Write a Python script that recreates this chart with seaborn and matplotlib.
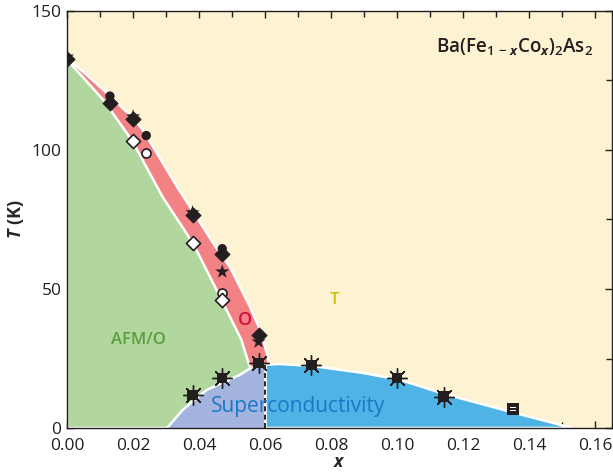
import numpy as np
import pandas as pd
import matplotlib.pyplot as plt
import seaborn as sns

sns.set_theme(style="ticks")
plt.rcParams['font.family'] = ['Open Sans', 'DejaVu Sans']
plt.rcParams['mathtext.fontset'] = 'custom'
plt.rcParams['mathtext.rm'] = 'Open Sans'
plt.rcParams['mathtext.it'] = 'Open Sans:italic:bold'
plt.rcParams['mathtext.bf'] = 'Open Sans:bold'

# phase boundaries (x, T in K)
red_x = [0.0, 0.006, 0.013, 0.02, 0.0231, 0.0332, 0.0397, 0.0448, 0.0493, 0.0554, 0.0589, 0.0609, 0.061]
red_T = [133.0, 127.0, 119.5, 111.5, 107.0, 87.0, 75.0, 65.5, 58.0, 43.6, 34.0, 25.0, 22.8]

afm_x = [0.0, 0.011, 0.0196, 0.029, 0.0362, 0.0392, 0.0453, 0.0503, 0.0528, 0.0548, 0.0555]
afm_T = [132.5, 118.0, 103.6, 83.0, 70.0, 64.0, 49.6, 37.7, 31.7, 24.0, 21.5]

sc_left_x = [0.0303, 0.035, 0.0423, 0.0523, 0.0555, 0.06]
sc_left_T = [0.0, 6.5, 13.7, 19.1, 21.5, 22.8]
sc_right_x = [0.0644, 0.0744, 0.0896, 0.1008, 0.115, 0.135, 0.153]
sc_right_T = [23.0, 22.3, 19.8, 17.3, 12.0, 5.6, 0.0]

# measured points
dia_x = [0.0, 0.013, 0.02, 0.038, 0.047, 0.058]
dia_T = [132.7, 116.9, 111.0, 76.6, 62.6, 33.5]
star_x = [0.0, 0.02, 0.038, 0.047, 0.058]
star_T = [133.5, 112.0, 77.5, 56.2, 31.0]
bcirc_x = [0.013, 0.024, 0.047]
bcirc_T = [119.4, 105.2, 64.5]
wcirc_x = [0.024, 0.047]
wcirc_T = [99.0, 48.4]
wdia_x = [0.02, 0.038, 0.047]
wdia_T = [103.3, 66.7, 46.0]
tc_x = [0.038, 0.047, 0.058, 0.074, 0.10, 0.114]
tc_T = [11.9, 17.9, 23.3, 22.7, 17.9, 11.3]
tc2_x = [0.135]
tc2_T = [6.8]

cream = '#FDF2D2'
green = '#B1D69E'
red = '#F28284'
purple = '#A3B4DE'
blue = '#4FB3E6'

fig = plt.figure(figsize=(6.13, 4.76), dpi=100)
ax = fig.add_axes([67 / 613, 48 / 476, 545 / 613, 417 / 476])
ax.set_facecolor(cream)

# red (orthorhombic) band
rx = red_x + [red_x[-1], 0.0]
rT = red_T + [0.0, 0.0]
ax.fill(rx, rT, facecolor=red, edgecolor='white', lw=1.8, zorder=1)

# superconducting dome
dx = sc_left_x + sc_right_x
dT = sc_left_T + sc_right_T
ax.fill(dx, dT, facecolor=blue, edgecolor='white', lw=1.8, zorder=2)
px = sc_left_x + [0.06]
pT = sc_left_T + [0.0]
ax.fill(px, pT, facecolor=purple, edgecolor='none', zorder=3)

# AFM/O region
gx = afm_x + sc_left_x[-3::-1] + [0.0]
gT = afm_T + sc_left_T[-3::-1] + [0.0]
ax.fill(gx, gT, facecolor=green, edgecolor='white', lw=1.8, zorder=4)

ax.plot([0.06, 0.06], [0, 22.8], color='white', lw=2, zorder=5)
ax.plot([0.06, 0.06], [0, 22.8], color='black', lw=1.2, ls=(0, (3, 2)), zorder=6)

# markers
sns.scatterplot(x=star_x, y=star_T, marker='*', s=115, color='#231F20', edgecolor='none', ax=ax, zorder=7)
sns.scatterplot(x=bcirc_x, y=bcirc_T, marker='o', s=45, color='#231F20', edgecolor='none', ax=ax, zorder=7)
sns.scatterplot(x=dia_x, y=dia_T, marker='D', s=60, color='#231F20', edgecolor='#231F20', ax=ax, zorder=8)
sns.scatterplot(x=wcirc_x, y=wcirc_T, marker='o', s=42, color='white', edgecolor='#231F20', linewidth=1.2, ax=ax, zorder=8)
sns.scatterplot(x=wdia_x, y=wdia_T, marker='D', s=52, color='white', edgecolor='#231F20', linewidth=1.2, ax=ax, zorder=9)

ax.scatter(tc_x, tc_T, marker=(8, 2, 0), s=200, c='#231F20', linewidths=1.0, zorder=8)
sns.scatterplot(x=tc_x, y=tc_T, marker='s', s=55, color='#231F20', edgecolor='none', ax=ax, zorder=9)
sns.scatterplot(x=tc2_x, y=tc2_T, marker='s', s=75, color='#231F20', edgecolor='none', ax=ax, zorder=9)
ax.scatter(tc2_x, tc2_T, marker='$=$', s=22, c='white', linewidths=0, zorder=10)

# labels
ax.text(0.0215, 31.7, 'AFM/O', color='#5A9F3C', fontsize=12, fontweight='semibold', ha='center', va='center', zorder=11)
ax.text(0.0539, 38.8, 'O', color='#CF1040', fontsize=13, fontweight='semibold', ha='center', va='center', zorder=11)
ax.text(0.0811, 46.0, 'T', color='#C9C013', fontsize=12, fontweight='semibold', ha='center', va='center', zorder=11)
ax.text(0.0699, 7.9, 'Superconductivity', color='#1C77C6', fontsize=15, ha='center', va='center', zorder=11)
ax.text(0.1592, 137.0, r'Ba(Fe$_{\mathregular{1\,-\,}x}$Co$_{x}$)$_{\mathregular{2}}$As$_{\mathregular{2}}$',
        color='#231F20', fontsize=13.5, fontweight='semibold', ha='right', va='center', zorder=11)

ax.set_xlim(0, 0.165)
ax.set_ylim(0, 150)
ax.set_xticks(np.arange(0, 0.161, 0.02))
ax.set_xticklabels(['%.2f' % v for v in np.arange(0, 0.161, 0.02)])
ax.set_xticks(np.arange(0.01, 0.161, 0.02), minor=True)
ax.set_yticks([0, 50, 100, 150])
ax.set_yticks([25, 75, 125], minor=True)
ax.tick_params(which='both', direction='in', top=True, right=True, color='#231F20', width=1, labelsize=12.5, labelcolor='#231F20')
ax.tick_params(axis='x', pad=7.5)
ax.tick_params(axis='y', pad=4)
ax.tick_params(which='major', length=5)
ax.tick_params(which='minor', length=4)
for lab in ax.get_yticklabels():
    lab.set_verticalalignment('center_baseline')
for s in ax.spines.values():
    s.set_color('#231F20')
    s.set_linewidth(1)
    s.set_zorder(12)

ax.set_xlabel(r'$x$', fontsize=12.5, fontweight='bold', labelpad=-1)
ax.set_ylabel(r'$T$ (K)', fontsize=13, fontweight='bold', labelpad=4)

fig.savefig('out.png', dpi=100)
